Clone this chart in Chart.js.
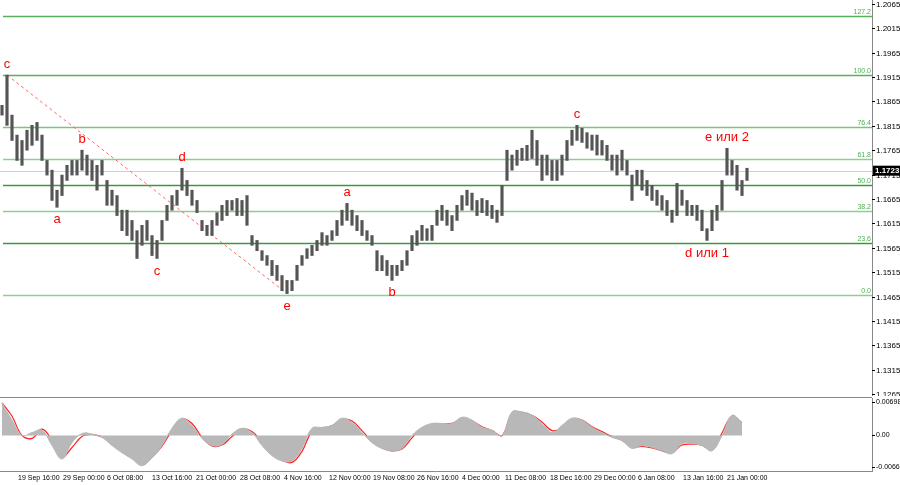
<!DOCTYPE html>
<html>
<head>
<meta charset="utf-8">
<script src="https://cdn.jsdelivr.net/npm/chart.js@4"></script>
<style>
  body { margin: 0; background: #fff; width: 900px; height: 485px; overflow: hidden; }
  canvas { position: absolute; left: 0; }
  #price { top: 0; }
  #macd { top: 396px; }
</style>
</head>
<body>
<canvas id="price" width="900" height="396"></canvas>
<canvas id="macd" width="900" height="89"></canvas>
<script>
// price bars (sampled), highs and lows
const barHigh = [
  1.1857, 1.1919, 1.1837, 1.1796, 1.1785, 1.1806, 1.1816, 1.1822, 1.1796, 1.1744,
  1.1724, 1.1683, 1.1714, 1.1734, 1.1744, 1.1744, 1.1765, 1.1755, 1.1744, 1.1734,
  1.1744, 1.1703, 1.1683, 1.1672, 1.1642, 1.1642, 1.1621, 1.1600, 1.1611, 1.1621,
  1.1590, 1.1580, 1.1621, 1.1652, 1.1672, 1.1683, 1.1728, 1.1703, 1.1683, 1.1662,
  1.1621, 1.1611, 1.1621, 1.1637, 1.1652, 1.1662, 1.1662, 1.1666, 1.1662, 1.1672,
  1.1590, 1.1580, 1.1559, 1.1549, 1.1539, 1.1529, 1.1508, 1.1498, 1.1498, 1.1529,
  1.1549, 1.1563, 1.1570, 1.1580, 1.1596, 1.1590, 1.1600, 1.1621, 1.1642, 1.1656,
  1.1642, 1.1631, 1.1621, 1.1600, 1.1590, 1.1559, 1.1549, 1.1539, 1.1529, 1.1529,
  1.1539, 1.1559, 1.1590, 1.1600, 1.1611, 1.1604, 1.1611, 1.1642, 1.1652, 1.1642,
  1.1631, 1.1652, 1.1672, 1.1683, 1.1677, 1.1662, 1.1666, 1.1662, 1.1652, 1.1642,
  1.1693, 1.1765, 1.1755, 1.1765, 1.1769, 1.1775, 1.1806, 1.1785, 1.1755, 1.1755,
  1.1744, 1.1744, 1.1755, 1.1785, 1.1806, 1.1816, 1.1810, 1.1801, 1.1796, 1.1796,
  1.1785, 1.1775, 1.1755, 1.1755, 1.1765, 1.1744, 1.1714, 1.1724, 1.1724, 1.1703,
  1.1693, 1.1683, 1.1672, 1.1662, 1.1642, 1.1697, 1.1683, 1.1662, 1.1652, 1.1652,
  1.1642, 1.1604, 1.1642, 1.1652, 1.1703, 1.1769, 1.1744, 1.1734, 1.1703, 1.1728
];
const barLow = [
  1.1837, 1.1816, 1.1785, 1.1744, 1.1734, 1.1765, 1.1775, 1.1785, 1.1744, 1.1714,
  1.1662, 1.1648, 1.1672, 1.1703, 1.1714, 1.1714, 1.1724, 1.1714, 1.1703, 1.1683,
  1.1714, 1.1652, 1.1652, 1.1631, 1.1600, 1.1590, 1.1580, 1.1543, 1.1570, 1.1580,
  1.1549, 1.1543, 1.1580, 1.1621, 1.1642, 1.1652, 1.1683, 1.1672, 1.1652, 1.1637,
  1.1600, 1.1590, 1.1590, 1.1611, 1.1621, 1.1631, 1.1642, 1.1631, 1.1631, 1.1611,
  1.1570, 1.1559, 1.1539, 1.1529, 1.1508, 1.1498, 1.1477, 1.1471, 1.1477, 1.1498,
  1.1529, 1.1543, 1.1549, 1.1559, 1.1570, 1.1570, 1.1580, 1.1590, 1.1611, 1.1621,
  1.1611, 1.1600, 1.1590, 1.1580, 1.1570, 1.1518, 1.1518, 1.1508, 1.1498, 1.1508,
  1.1518, 1.1529, 1.1559, 1.1570, 1.1580, 1.1580, 1.1580, 1.1611, 1.1621, 1.1611,
  1.1600, 1.1621, 1.1642, 1.1652, 1.1642, 1.1631, 1.1637, 1.1631, 1.1625, 1.1617,
  1.1631, 1.1703, 1.1724, 1.1734, 1.1744, 1.1744, 1.1748, 1.1734, 1.1703, 1.1714,
  1.1703, 1.1703, 1.1714, 1.1744, 1.1775, 1.1785, 1.1781, 1.1769, 1.1765, 1.1755,
  1.1755, 1.1744, 1.1724, 1.1714, 1.1724, 1.1714, 1.1662, 1.1693, 1.1683, 1.1672,
  1.1662, 1.1652, 1.1642, 1.1631, 1.1617, 1.1631, 1.1652, 1.1631, 1.1631, 1.1621,
  1.1600, 1.1580, 1.1600, 1.1621, 1.1642, 1.1714, 1.1714, 1.1683, 1.1672, 1.1703
];

// fibonacci grid
const fibLabels = ['0.0', '23.6', '38.2', '50.0', '61.8', '76.4', '100.0', '127.2'];
const fibPrices = [1.1469, 1.1575, 1.1641, 1.1694, 1.1747, 1.1813, 1.1919, 1.2041];
const fibColors = ['#8fce8f', '#3a9a3a', '#8fce8f', '#3a9a3a', '#8fce8f', '#7cc47c', '#5aaf5a', '#5aaf5a'];

const priceTicks = [1.1265, 1.1315, 1.1365, 1.1415, 1.1465, 1.1515, 1.1565, 1.1615,
  1.1665, 1.1715, 1.1765, 1.1815, 1.1865, 1.1915, 1.1965, 1.2015, 1.2065];
const lastPrice = 1.1723;

// wave marks: bar index, text, side
const waveBars = [1, 11, 16, 31, 36, 57, 69, 78, 115, 141, 145];
const waveText = ['c', 'a', 'b', 'c', 'd', 'e', 'a', 'b', 'c', 'd или 1', 'e или 2'];
const waveSide = ['up', 'down', 'up', 'down', 'up', 'down', 'up', 'down', 'up', 'down', 'up'];

// time axis
const timeLabels = ['19 Sep 16:00', '29 Sep 00:00', '6 Oct 08:00', '13 Oct 16:00', '21 Oct 00:00',
  '28 Oct 08:00', '4 Nov 16:00', '12 Nov 00:00', '19 Nov 08:00', '26 Nov 16:00', '4 Dec 00:00',
  '11 Dec 08:00', '18 Dec 16:00', '29 Dec 00:00', '6 Jan 08:00', '13 Jan 16:00', '21 Jan 00:00'];
const timeBars = [3.2, 12.2, 21, 30, 38.8, 47.6, 56.4, 65.4, 74.2, 83, 92, 100.6, 109.6, 118.4, 127.2, 136.2, 145];

// MACD, one value every second bar
const macdHist = [
  0.0068, 0.0032, 0.0000, 0.0006, 0.0011, -0.0021, -0.0049, -0.0015, 0.0004, 0.0003,
  -0.0004, -0.0021, -0.0036, -0.0049, -0.0063, -0.0046, -0.0021, 0.0015, 0.0036, 0.0021,
  -0.0006, -0.0021, -0.0019, 0.0003, 0.0015, 0.0006, -0.0021, -0.0042, -0.0053, -0.0053,
  -0.0027, 0.0015, 0.0017, 0.0021, 0.0036, 0.0027, 0.0006, -0.0015, -0.0027, -0.0032,
  -0.0027, 0.0000, 0.0017, 0.0025, 0.0025, 0.0025, 0.0038, 0.0032, 0.0017, 0.0011,
  0.0000, 0.0049, 0.0049, 0.0042, 0.0025, 0.0006, 0.0021, 0.0036, 0.0032, 0.0017,
  0.0006, -0.0004, -0.0011, -0.0027, -0.0021, -0.0025, -0.0032, -0.0038, -0.0017, -0.0017,
  -0.0021, -0.0032, 0.0000, 0.0042, 0.0027
];
const macdSignal = [
  0.0068, 0.0040, 0.0000, -0.0006, 0.0013, -0.0010, -0.0045, -0.0025, -0.0002, 0.0002,
  -0.0003, -0.0015, -0.0030, -0.0045, -0.0060, -0.0045, -0.0022, 0.0010, 0.0034, 0.0025,
  -0.0004, -0.0022, -0.0020, -0.0002, 0.0013, 0.0008, -0.0015, -0.0038, -0.0052, -0.0056,
  -0.0033, 0.0008, 0.0015, 0.0020, 0.0033, 0.0030, 0.0010, -0.0012, -0.0026, -0.0032,
  -0.0028, -0.0005, 0.0015, 0.0022, 0.0024, 0.0025, 0.0035, 0.0030, 0.0018, 0.0010,
  0.0000, 0.0045, 0.0048, 0.0042, 0.0028, 0.0010, 0.0015, 0.0033, 0.0032, 0.0018,
  0.0008, -0.0002, -0.0010, -0.0024, -0.0023, -0.0026, -0.0032, -0.0036, -0.0020, -0.0018,
  -0.0020, -0.0030, 0.0005, 0.0040, 0.0026
];
const macdTicks = [-0.00664, 0, 0.00698];
const macdTickText = ['-0.00664', '0.00', '0.00698'];

const X_MIN = -0.4, X_MAX = 174;
const FONT = '"Liberation Sans", Arial, sans-serif';

const priceData = barHigh.map((h, i) => ({ x: i, y: [barLow[i], h] }));
const trendLine = [{ x: 1, y: barHigh[1] }, { x: 57, y: barLow[57] }];

// draws right-axis labels by hand so the plot keeps its full height
function drawYLabels(chart, values, texts, size) {
  const { ctx, chartArea, scales } = chart;
  ctx.save();
  ctx.font = size + 'px ' + FONT;
  ctx.fillStyle = '#000';
  ctx.textAlign = 'left';
  ctx.textBaseline = 'middle';
  ctx.strokeStyle = '#000';
  ctx.lineWidth = 1;
  values.forEach((v, i) => {
    const y = Math.round(scales.y.getPixelForValue(v)) + 0.5;
    ctx.beginPath(); ctx.moveTo(chartArea.right, y); ctx.lineTo(chartArea.right + 3, y); ctx.stroke();
    ctx.fillText(texts[i], chartArea.right + 4, y);
  });
  ctx.restore();
}

// horizontal fib levels, last price line and wave marks
const overlayPlugin = {
  id: 'overlay',
  beforeDatasetsDraw(chart) {
    const { ctx, chartArea, scales } = chart;
    ctx.save();
    const yl = Math.round(scales.y.getPixelForValue(lastPrice)) + 0.5;
    ctx.strokeStyle = '#d0d0d0';
    ctx.lineWidth = 1;
    ctx.beginPath(); ctx.moveTo(chartArea.left, yl); ctx.lineTo(chartArea.right, yl); ctx.stroke();
    fibPrices.forEach((p, i) => {
      const y = Math.round(scales.y.getPixelForValue(p)) + 0.5;
      ctx.strokeStyle = fibColors[i];
      ctx.lineWidth = 1.3;
      ctx.beginPath(); ctx.moveTo(chartArea.left + 3, y); ctx.lineTo(chartArea.right, y); ctx.stroke();
      ctx.fillStyle = '#4caf50';
      ctx.font = '7px ' + FONT;
      ctx.textAlign = 'right';
      ctx.textBaseline = 'bottom';
      ctx.fillText(fibLabels[i], chartArea.right - 1, y - 1);
    });
    ctx.restore();
  },
  afterDatasetsDraw(chart) {
    const { ctx, chartArea, scales } = chart;
    drawYLabels(chart, priceTicks, priceTicks.map(v => v.toFixed(4)), 8);
    ctx.save();
    ctx.font = '13px Arial, "Liberation Sans", sans-serif';
    ctx.fillStyle = '#ff0000';
    ctx.textAlign = 'center';
    waveBars.forEach((b, i) => {
      const x = scales.x.getPixelForValue(b);
      if (waveSide[i] === 'up') {
        ctx.textBaseline = 'bottom';
        ctx.fillText(waveText[i], x, scales.y.getPixelForValue(barHigh[b]) - 4);
      } else {
        ctx.textBaseline = 'top';
        ctx.fillText(waveText[i], x, scales.y.getPixelForValue(barLow[b]) + 6);
      }
    });
    // last price tag on the axis
    const yl = scales.y.getPixelForValue(lastPrice);
    ctx.fillStyle = '#000';
    ctx.fillRect(chartArea.right + 1, yl - 5, 27, 10);
    ctx.fillStyle = '#fff';
    ctx.font = 'bold 8px ' + FONT;
    ctx.textAlign = 'left';
    ctx.textBaseline = 'middle';
    ctx.fillText(lastPrice.toFixed(4), chartArea.right + 3, yl);
    ctx.restore();
  }
};

const macdAxisPlugin = {
  id: 'macdAxis',
  afterDatasetsDraw(chart) {
    drawYLabels(chart, macdTicks, macdTickText, 7);
    const { ctx, chartArea } = chart;
    ctx.save();
    ctx.strokeStyle = '#888';
    ctx.beginPath(); ctx.moveTo(0, chartArea.top - 0.5); ctx.lineTo(chartArea.right, chartArea.top - 0.5); ctx.stroke();
    ctx.restore();
  }
};

Chart.defaults.animation = false;
Chart.defaults.font.family = FONT;
Chart.defaults.font.size = 8;
Chart.defaults.color = '#000';

const yAxisBase = {
  position: 'right',
  afterFit: axis => { axis.width = 28; axis.paddingTop = 0; axis.paddingBottom = 0; },
  grid: { display: false },
  border: { display: true, color: '#888' },
  ticks: { display: false }
};

new Chart(document.getElementById('price'), {
  type: 'bar',
  data: {
    datasets: [
      {
        data: priceData,
        backgroundColor: '#555',
        barThickness: 2.5,
        grouped: false
      },
      {
        type: 'line',
        data: trendLine,
        borderColor: '#ff6666',
        borderWidth: 1,
        borderDash: [3, 3],
        pointRadius: 0
      }
    ]
  },
  options: {
    responsive: false,
    devicePixelRatio: 1,
    layout: { padding: 0 },
    plugins: { legend: { display: false }, tooltip: { enabled: false } },
    scales: {
      x: { type: 'linear', min: X_MIN, max: X_MAX, offset: false, display: false },
      y: { ...yAxisBase, min: 1.1261, max: 1.2073 }
    }
  },
  plugins: [overlayPlugin]
});

const macdIdx = macdHist.map((_, i) => i * 2);

new Chart(document.getElementById('macd'), {
  type: 'line',
  data: {
    datasets: [
      {
        data: macdHist.map((v, i) => ({ x: macdIdx[i], y: v })),
        borderColor: '#b8b8b8',
        backgroundColor: '#b8b8b8',
        borderWidth: 1,
        fill: 'origin',
        pointRadius: 0,
        tension: 0.4
      },
      {
        data: macdSignal.map((v, i) => ({ x: macdIdx[i], y: v })),
        borderColor: '#ff2020',
        borderWidth: 1.2,
        pointRadius: 0,
        tension: 0.4
      }
    ]
  },
  options: {
    responsive: false,
    devicePixelRatio: 1,
    layout: { padding: { top: 2 } },
    plugins: { legend: { display: false }, tooltip: { enabled: false } },
    scales: {
      x: {
        type: 'linear',
        min: X_MIN,
        max: X_MAX,
        offset: false,
        afterBuildTicks: axis => { axis.ticks = timeBars.map(v => ({ value: v })); },
        afterFit: axis => { axis.height = 14; },
        grid: { display: false, tickLength: 3 },
        border: { display: true, color: '#888' },
        ticks: {
          autoSkip: false,
          maxRotation: 0,
          align: 'start',
          padding: 0,
          font: { size: 7 },
          callback: (v, i) => timeLabels[i]
        }
      },
      y: { ...yAxisBase, min: -0.0074, max: 0.0078 }
    }
  },
  plugins: [macdAxisPlugin]
});
</script>
</body>
</html>
